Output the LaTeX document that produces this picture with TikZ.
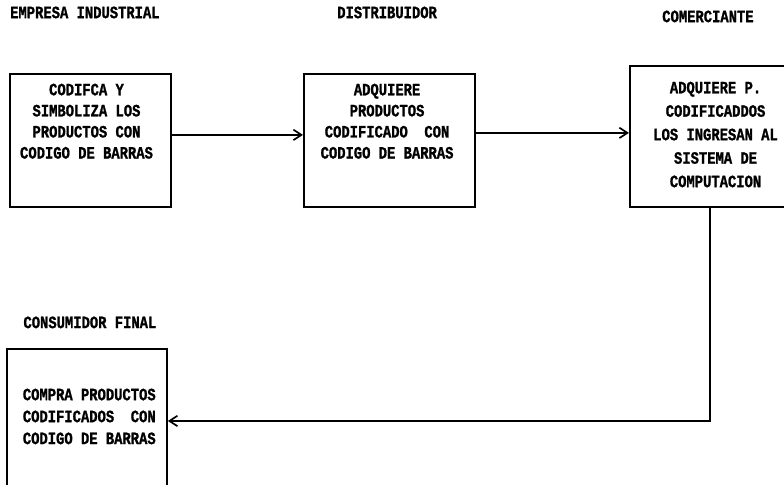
\documentclass[tikz,border=0pt]{standalone}
\usepackage{fontspec}
\newfontfamily\dotfont{Liberation Mono}[FakeStretch=0.8, FakeBold=1.2]
\usetikzlibrary{arrows.meta, positioning}
\tikzstyle{stage} = [rectangle, draw=black, line width=1.4pt, inner sep=0pt]
\tikzstyle{caption} = [inner sep=0pt, font=\dotfont\bfseries\fontsize{12.3}{15}\selectfont]
\tikzstyle{boxtext} = [inner sep=0pt, align=center, anchor=north, font=\dotfont\bfseries\fontsize{12.3}{15}\selectfont]
\tikzstyle{arrow} = [line width=1.4pt, -{Straight Barb[length=2mm, width=2.6mm, line width=1.2pt]}]

\begin{document}
\begin{tikzpicture}
\useasboundingbox (0,0) rectangle (19.6,-12.125);

% stages
\node (empresa) [stage, minimum width=4.025cm, minimum height=3.325cm] at (2.2625,-3.5125) {};
\node (distrib) [stage, minimum width=4.275cm, minimum height=3.325cm, right=3.275cm of empresa] {};
\node (comerc) [stage, minimum width=4cm, minimum height=3.525cm, right=3.825cm of distrib, yshift=0.1cm] {};
\node (consum) [stage, minimum width=4cm, minimum height=3.6cm, below=3.5cm of empresa, xshift=-0.09cm] {};

% titles
\node (empresaTitle) [caption, above=1.36cm of empresa, xshift=-0.14cm] {EMPRESA INDUSTRIAL};
\node (distribTitle) [caption, above=1.36cm of distrib, xshift=-0.06cm] {DISTRIBUIDOR};
\node (comercTitle) [caption, above=1.06cm of comerc, xshift=-0.05cm] {COMERCIANTE};
\node (consumTitle) [caption, above=0.485cm of consum, xshift=0.075cm] {CONSUMIDOR FINAL};

% texts in the boxes
\node (empresaText) [boxtext, below=0.26cm of empresa.north, xshift=-0.1cm] {CODIFCA Y\\SIMBOLIZA LOS\\PRODUCTOS CON\\CODIGO DE BARRAS};
\node (distribText) [boxtext, below=0.26cm of distrib.north, xshift=-0.06cm] {ADQUIERE\\PRODUCTOS\\CODIFICADO\ \ CON\\CODIGO DE BARRAS};
\node (comercText) [boxtext, below=0.41cm of comerc.north, xshift=0.14cm, font=\dotfont\bfseries\fontsize{12.3}{16.7}\selectfont] {ADQUIERE P.\\CODIFICADDOS\\LOS INGRESAN AL\\SISTEMA DE\\COMPUTACION};
\node (consumText) [boxtext, below=1.01cm of consum.north, xshift=0.06cm, font=\dotfont\bfseries\fontsize{12.3}{15.6}\selectfont] {COMPRA PRODUCTOS\\CODIFICADOS\ \ CON\\CODIGO DE BARRAS};

% connectors
\draw[arrow] ([yshift=0.14cm]empresa.east) -- ([yshift=0.14cm]empresa.east -| distrib.west);
\draw[arrow] ([yshift=0.19cm]distrib.east) -- ([yshift=0.19cm]distrib.east -| comerc.west);
\draw[arrow] (comerc.south) |- (consum.east);

\end{tikzpicture}
\end{document}
